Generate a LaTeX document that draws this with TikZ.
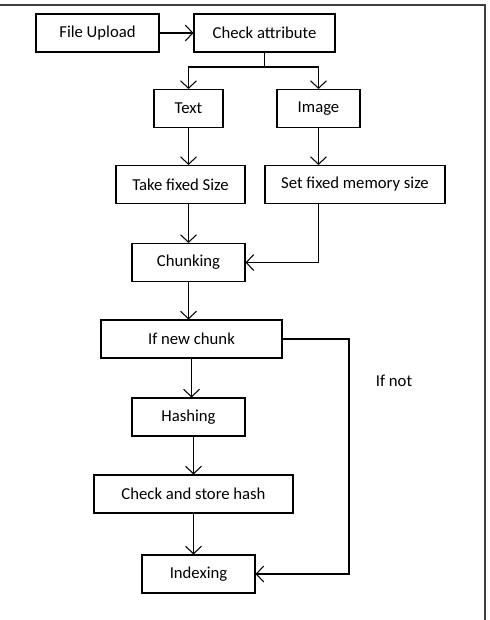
\documentclass[tikz,border=0pt]{standalone}
\usepackage{fontspec}
\setmainfont{Carlito}
\usetikzlibrary{arrows.meta}

\begin{document}
\begin{tikzpicture}[
  x=0.02cm, y=-0.02cm,
  font=\fontsize{9.5}{11}\selectfont,
  box/.style={draw, line width=0.6pt, minimum height=0.76cm, inner sep=0pt},
  flow/.style={-{Straight Barb[length=1.5mm,width=3.2mm]}, line width=0.6pt},
  wire/.style={line width=0.6pt}
]
  \useasboundingbox (0,0) rectangle (490,620);
  \draw[line width=1pt, black!75] (0,5) -- (485,5) -- (485,620);

  % boxes
  \node[box, minimum width=2.46cm] (upload) at (97.5,33) {File Upload};
  \node[box, minimum width=2.82cm] (check) at (264.5,33) {Check attribute};
  \node[box, minimum width=1.38cm] (text) at (188.5,108.5) {Text};
  \node[box, minimum width=1.66cm] (image) at (318.5,108.5) {Image};
  \node[box, minimum width=2.58cm] (fixed) at (180.5,184.5) {Take fixed Size};
  \node[box, minimum width=3.6cm] (memory) at (355,184.5) {Set fixed memory size};
  \node[box, minimum width=2.26cm] (chunking) at (188.5,262.5) {Chunking};
  \node[box, minimum width=3.62cm] (ifnew) at (191.5,339) {If new chunk};
  \node[box, minimum width=2.26cm] (hashing) at (188.5,417) {Hashing};
  \node[box, minimum width=3.98cm] (store) at (193.5,494) {Check and store hash};
  \node[box, minimum width=2.26cm] (index) at (198.5,574) {Indexing};
  \node (ifnot) at (394,381) {If not};

  \coordinate (split) at (264.5,67);
  \coordinate (loop) at (349,339);

  % connectors
  \draw[flow] (upload) -- (check);
  \draw[wire] (check.south) -- (split);
  \draw[flow] (split) -| (text.north);
  \draw[flow] (split) -| (image.north);
  \draw[flow] (text.south) -- (text.south |- fixed.north);
  \draw[flow] (image.south) -- (image.south |- memory.north);
  \draw[flow] (fixed.south -| chunking) -- (chunking.north);
  \draw[flow] (memory.south -| image) |- (chunking.east);
  \draw[flow] (chunking.south) -- (chunking.south |- ifnew.north);
  \draw[flow] (ifnew.south) -- (ifnew.south |- hashing.north);
  \draw[flow] (hashing.south -| store) -- (store.north);
  \draw[flow] (store.south) -- (store.south |- index.north);
  \draw[flow] (ifnew.east) -- (loop) |- (index.east);
\end{tikzpicture}
\end{document}
